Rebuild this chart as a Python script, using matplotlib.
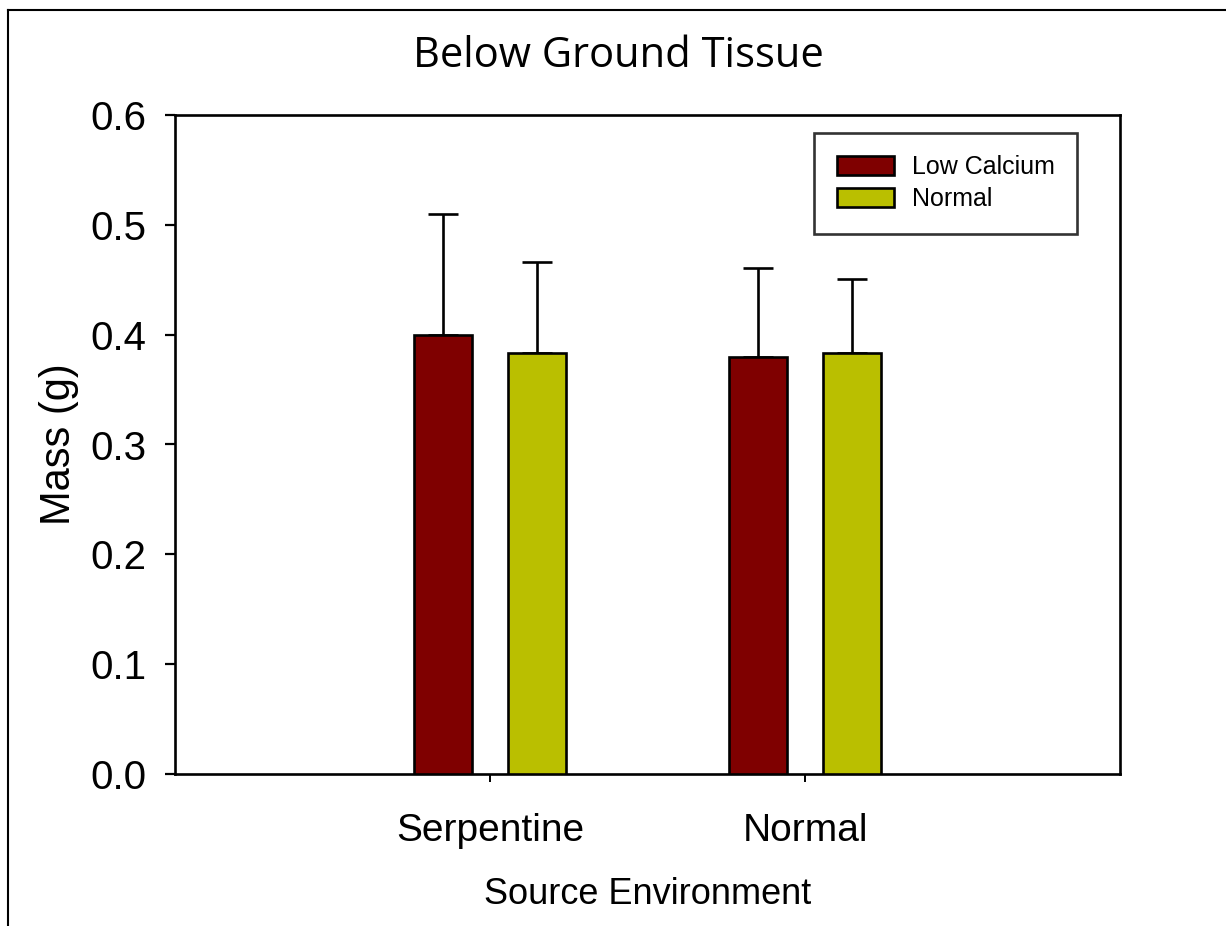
import matplotlib
matplotlib.use("Agg")
import matplotlib.pyplot as plt
from matplotlib.lines import Line2D
from matplotlib.patches import Patch
import numpy as np

categories = ["Serpentine", "Normal"]
series_names = ["Low Calcium", "Normal"]
low_calcium = [0.400, 0.380]
normal = [0.383, 0.383]
low_calcium_err = [0.110, 0.081]
normal_err = [0.083, 0.068]
colors = ["#7F0000", "#BABF00"]
yticks = [0.0, 0.1, 0.2, 0.3, 0.4, 0.5, 0.6]

W, H = 1226, 926
fig = plt.figure(figsize=(W / 100, H / 100), dpi=100)
ax = fig.add_axes([175 / W, 1 - 774 / H, 945 / W, 659 / H])

x = np.arange(1, len(categories) + 1)
bw = 0.184
off = 0.15
LW = 1.9
for vals, errs, c, name, sgn in [(low_calcium, low_calcium_err, colors[0], series_names[0], -1),
                                  (normal, normal_err, colors[1], series_names[1], 1)]:
    ax.bar(x + sgn * off, vals, width=bw, color=c, edgecolor="black", linewidth=LW,
           label=name, zorder=3)
    ax.errorbar(x + sgn * off, vals, yerr=[np.zeros(len(vals)), errs], fmt="none",
                ecolor="black", elinewidth=LW, capsize=10.5, capthick=LW, zorder=2)

ax.set_xlim(0, 3)
ax.set_ylim(0, 0.6)
ax.set_yticks(yticks)
ax.set_yticklabels([f"{v:.1f}" for v in yticks])
ax.set_xticks(x)
ax.set_xticklabels(categories)

for lab in ax.get_yticklabels():
    lab.set_fontfamily("Liberation Sans")
    lab.set_fontsize(29)
for lab in ax.get_xticklabels():
    lab.set_fontfamily("Liberation Sans")
    lab.set_fontsize(28)
ax.tick_params(axis="y", direction="out", length=7.5, width=1.6, pad=13)
ax.tick_params(axis="x", direction="out", length=6, width=1.4, pad=22)
for sp in ax.spines.values():
    sp.set_linewidth(LW)

ax.set_ylabel("Mass (g)", fontfamily="Liberation Sans", fontsize=30, va="center")
ax.yaxis.set_label_coords(-0.123, 0.5)
ax.set_xlabel("Source Environment", fontfamily="Liberation Sans", fontsize=26, va="center")
ax.xaxis.set_label_coords(0.5, -0.1836)

handles = [Patch(facecolor=colors[0], edgecolor="black", linewidth=LW),
           Patch(facecolor=colors[1], edgecolor="black", linewidth=LW)]
leg = ax.legend(handles, series_names, loc="upper right", bbox_to_anchor=(1 - 43 / 945, 1 - 18 / 659),
                prop=dict(family="Liberation Sans", size=18), frameon=True, fancybox=False,
                edgecolor="black", handlelength=2.3, handleheight=0.8, handletextpad=0.7,
                labelspacing=0.3, borderpad=0.9, borderaxespad=0)
leg.get_frame().set_linewidth(LW)

fig.text(618 / W, 1 - 56 / H, "Below Ground Tissue", ha="center", va="center",
         fontfamily="Open Sans", fontsize=30)

fig.add_artist(Line2D([8 / W, 1.0], [1 - 10 / H, 1 - 10 / H], transform=fig.transFigure,
                      color="black", linewidth=1.5))
fig.add_artist(Line2D([8 / W, 8 / W], [0, 1 - 10 / H], transform=fig.transFigure,
                      color="black", linewidth=1.5))

fig.savefig("out.png", dpi=100, facecolor="white")
